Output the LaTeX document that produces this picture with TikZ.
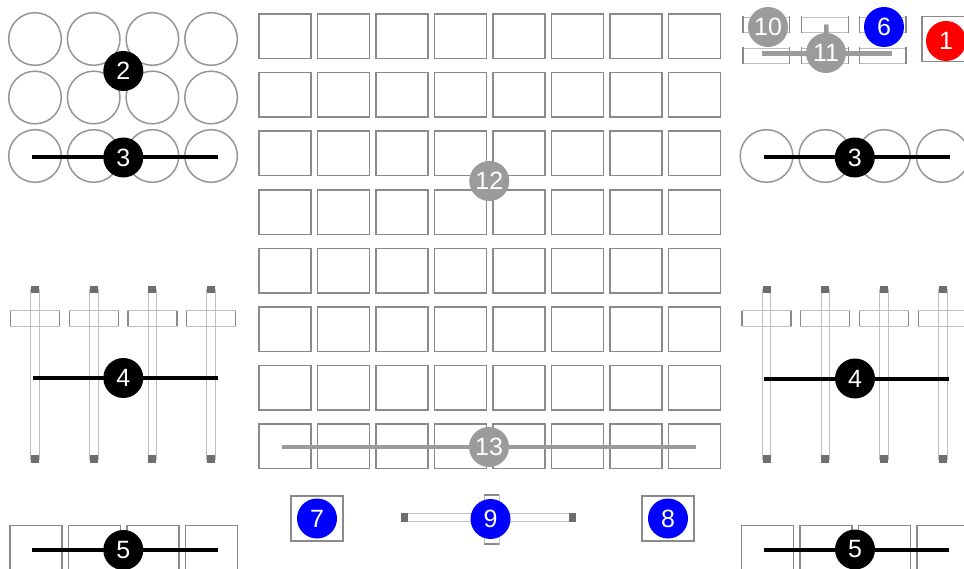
\documentclass[tikz,border=0pt]{standalone}
\usepackage{fontspec}
\setmainfont{Liberation Sans}
\definecolor{padgray}{RGB}{138,138,138}
\definecolor{ringgray}{RGB}{150,150,150}
\definecolor{tracklight}{RGB}{190,190,190}
\definecolor{enddark}{RGB}{110,110,110}
\definecolor{badgegray}{RGB}{155,155,155}
\definecolor{badgeblue}{RGB}{0,0,255}
\definecolor{badgered}{RGB}{255,0,0}
\tikzset{
  pad/.style={draw=padgray, line width=1.5pt},
  ring/.style={draw=ringgray, line width=1.5pt},
  track/.style={draw=tracklight, line width=0.8pt, fill=white},
  capbox/.style={draw=tracklight, line width=0.9pt, fill=white},
  capend/.style={draw=padgray, line width=1.2pt},
  endsq/.style={fill=enddark, draw=none},
  blackbar/.style={draw=black, line width=4pt},
  graybar/.style={draw=badgegray, line width=4.5pt},
  badge/.style={circle, inner sep=0pt, minimum size=40pt, text=white,
    font=\fontsize{25}{25}\selectfont},
  bk/.style={badge, fill=black},
  gy/.style={badge, fill=badgegray},
  bl/.style={badge, fill=badgeblue},
  rd/.style={badge, fill=badgered},
}
\begin{document}
\begin{tikzpicture}[x=1pt,y=-1pt]
\useasboundingbox (0,0) rectangle (964,569);
\clip (0,0) rectangle (964,569);
\fill[white] (0,0) rectangle (964,569);

% ---- central 8x8 pad grid
\foreach \i in {0,...,7}{
  \foreach \j in {0,...,7}{
    \pgfmathsetmacro{\xa}{259+58.5*\i}
    \pgfmathsetmacro{\ya}{14+58.6*\j}
    \draw[pad] (\xa,\ya) rectangle ++(52,44.5);
  }
}

% ---- left and right blocks
\foreach \off in {0,731.5}{
  \foreach \i in {0,...,3}{
    \pgfmathsetmacro{\cx}{35+58.7*\i+\off}
    \draw[ring] (\cx,156) circle[radius=26.3pt];
    % slider
    \draw[track] (\cx-4.3,289) rectangle (\cx+4.3,459);
    \fill[endsq] (\cx-4,286) rectangle (\cx+4,293.5);
    \fill[endsq] (\cx-4,455) rectangle (\cx+4,462.5);
    \draw[capbox] (\cx-24.5,310.7) rectangle (\cx+24.5,326.2);
    \draw[capend] (\cx-24.5,310.7) -- (\cx-24.5,326.2);
    \draw[capend] (\cx+24.5,310.7) -- (\cx+24.5,326.2);
    \draw[track,fill=none] (\cx-4.3,310.7) -- (\cx-4.3,326.2) (\cx+4.3,310.7) -- (\cx+4.3,326.2);
    % bottom buttons
    \pgfmathsetmacro{\bx}{10+58.5*\i+\off}
    \draw[pad] (\bx,525.7) rectangle ++(52,60);
  }
}
\foreach \i in {0,...,3}{
  \foreach \j in {0,1}{
    \pgfmathsetmacro{\cx}{35+58.7*\i}
    \pgfmathsetmacro{\cy}{39+58.5*\j}
    \draw[ring] (\cx,\cy) circle[radius=26.3pt];
  }
}

% ---- top right controls
\draw[pad] (922,16.7) rectangle ++(52,45);
\foreach \xa in {743,801.7,859.3}{
  \foreach \ya in {17,48}{
    \draw[capbox] (\xa,\ya) rectangle ++(46.7,15);
    \draw[capend] (\xa,\ya-1) -- ++(0,17);
    \draw[capend] (\xa+46.7,\ya-1) -- ++(0,17);
  }
}

% ---- bottom centre controls
\draw[pad] (291,496) rectangle (343,541);
\draw[pad] (642,496) rectangle (694,541);
\draw[track] (403,513.3) rectangle (573,521.7);
\fill[endsq] (400.5,512.7) rectangle (407.5,522.3);
\fill[endsq] (569,512.7) rectangle (576,522.3);
\draw[capbox] (484,495) rectangle (499,544);
\draw[capend] (484,495) -- (499,495) (484,544) -- (499,544);

% ---- bars (named end points)
\coordinate (l3a) at (32,157.5);   \coordinate (l3b) at (218,157.5);
\coordinate (r3a) at (763.5,157.5); \coordinate (r3b) at (949.5,157.5);
\coordinate (l4a) at (32.7,378);   \coordinate (l4b) at (218,378);
\coordinate (r4a) at (764,378.5);  \coordinate (r4b) at (949,378.5);
\coordinate (l5a) at (32,550);     \coordinate (l5b) at (218,550);
\coordinate (r5a) at (764,549.5);  \coordinate (r5b) at (949,549.5);
\coordinate (g13a) at (281.7,447); \coordinate (g13b) at (696,447);
\coordinate (g11a) at (761.7,53.3); \coordinate (g11b) at (891.7,53.3);
\coordinate (g11t) at (826.5,24.5);

\draw[blackbar] (l3a) -- (l3b);
\draw[blackbar] (r3a) -- (r3b);
\draw[blackbar] (l4a) -- (l4b);
\draw[blackbar] (r4a) -- (r4b);
\draw[blackbar] (l5a) -- (l5b);
\draw[blackbar] (r5a) -- (r5b);
\draw[graybar] (g13a) -- (g13b);
\draw[graybar] (g11a) -- (g11b);

% ---- badges
\node[bk] (b2)  at (123.3,71) {2};
\node[bk] (b3l) at (123.3,157.5) {3};
\node[bk] (b3r) at (854.8,157.5) {3};
\node[bk] (b4l) at (123.3,378) {4};
\node[bk] (b4r) at (855,378.5) {4};
\node[bk] (b5l) at (123.3,550) {5};
\node[bk] (b5r) at (855,549.5) {5};
\node[gy] (b12) at (489.3,181) {12};
\node[gy] (b13) at (489,447) {13};
\node[bl] (b7)  at (317,518.5) {7};
\node[bl] (b8)  at (668,518.5) {8};
\node[bl] (b9)  at (490.5,519) {9};
\node[gy] (b10) at (768,27) {10};
\node[bl] (b6)  at (884,27) {6};
\node[gy] (b11) at (826,53) {11};
\draw[graybar] (g11t) -- (b11);
\node[rd] (b1)  at (946,41) {1};
\end{tikzpicture}
\end{document}
